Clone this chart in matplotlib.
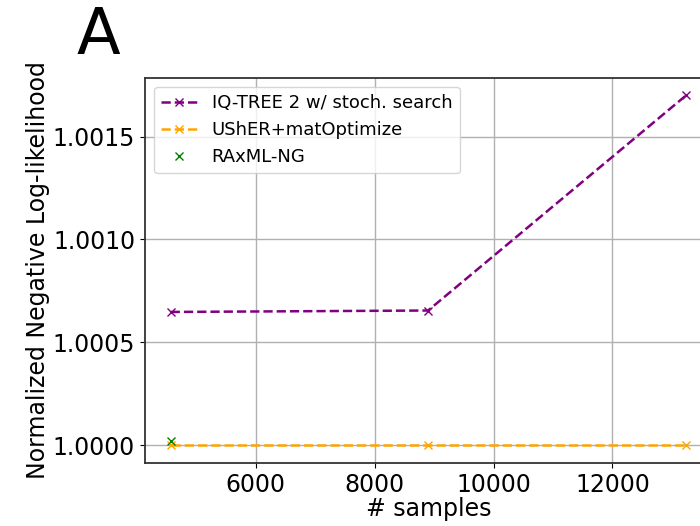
import matplotlib
matplotlib.use("Agg")
import matplotlib.pyplot as plt

samples = [4570, 8900, 13240]
iqtree = [1.000648, 1.000655, 1.001700]
usher = [1.0000, 1.0000, 1.0000]
raxml_x = [4570]
raxml_y = [1.00002]

fig = plt.figure(figsize=(7.0, 5.26), dpi=100)
ax = fig.add_axes([0.207, 0.120, 0.810, 0.732])

ax.plot(samples, iqtree, linestyle='--', marker='x', color='purple',
        linewidth=1.8, markersize=6, label='IQ-TREE 2 w/ stoch. search')
ax.plot(samples, usher, linestyle='--', marker='x', color='orange',
        linewidth=1.8, markersize=6, label='UShER+matOptimize')
ax.plot(raxml_x, raxml_y, linestyle='none', marker='x', color='green',
        markersize=6, label='RAxML-NG')

ax.set_xticks([6000, 8000, 10000, 12000])
ax.set_yticks([1.0000, 1.0005, 1.0010, 1.0015])
ax.set_yticklabels(['1.0000', '1.0005', '1.0010', '1.0015'])
ax.tick_params(labelsize=17)
ax.set_xlabel('# samples', fontsize=17, labelpad=0)
ax.set_ylabel('Normalized Negative Log-likelihood', fontsize=17, labelpad=2)
ax.grid(True, color='#b0b0b0', linewidth=1.0)
for s in ax.spines.values():
    s.set_linewidth(1.3)
    s.set_color('#333333')
ax.legend(loc='upper left', fontsize=13)

fig.text(0.14, 0.932, 'A', fontsize=46, ha='center', va='center')

fig.savefig('out.png', dpi=100)
